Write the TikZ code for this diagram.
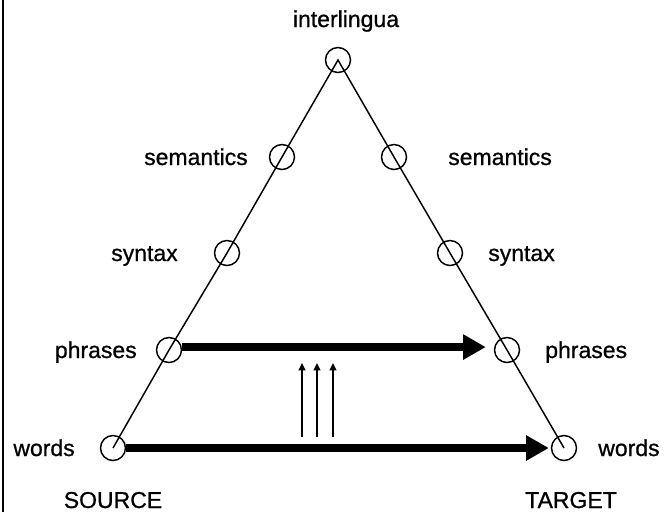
\documentclass[tikz,border=0pt]{standalone}
\usepackage{fontspec}
\setmainfont{Liberation Sans}
\newfontfamily\lblfont[FakeBold=0.8]{Liberation Sans}
\usetikzlibrary{arrows.meta}
\begin{document}
\begin{tikzpicture}[x=0.75pt,y=-0.75pt,
  lvl/.style={circle,draw,line width=1.1pt,minimum size=18.75pt,inner sep=0pt},
  lbl/.style={font=\lblfont\fontsize{17.25}{20}\selectfont,inner sep=0pt},
  edgeline/.style={line width=1.1pt},
  bigarrow/.style={line width=6pt,-{Triangle[length=17pt,width=18pt]}},
  thinarrow/.style={line width=1.3pt,-{Triangle[length=5.5pt,width=5pt]}}]
\useasboundingbox (0,0) rectangle (667,512);
\draw[line width=1.5pt] (3,0) -- (3,512);
% level circles
\node[lvl] (A)    at (338,60) {};
\node[lvl] (semL) at (282,157) {};
\node[lvl] (semR) at (394,157) {};
\node[lvl] (synL) at (227,253) {};
\node[lvl] (synR) at (450,253) {};
\node[lvl] (phL)  at (169,350) {};
\node[lvl] (phR)  at (507,350) {};
\node[lvl] (wL)   at (113,448) {};
\node[lvl] (wR)   at (564,448) {};
% triangle sides
\draw[edgeline] (wL.center) -- (phL.center) -- (synL.center) -- (semL.center) -- (A.center)
  -- (semR.center) -- (synR.center) -- (phR.center) -- (wR.center);
% labels
\node[lbl,anchor=base] (tI) at (346,27) {interlingua};
\node[lbl,anchor=base east] (tsemL) at (248,165) {semantics};
\node[lbl,anchor=base east] (tsynL) at (178,261) {syntax};
\node[lbl,anchor=base east] (tphL) at (137,358) {phrases};
\node[lbl,anchor=base east] (twL) at (75,456) {words};
\node[lbl,anchor=base west] (tsemR) at (448,165) {semantics};
\node[lbl,anchor=base west] (tsynR) at (488,261) {syntax};
\node[lbl,anchor=base west] (tphR) at (545,358) {phrases};
\node[lbl,anchor=base west] (twR) at (598,456) {words};
\node[lbl,anchor=base] (tS) at (113,508) {SOURCE};
\node[lbl,anchor=base] (tT) at (571,508) {TARGET};
% transfer arrows
\draw[bigarrow,shorten >=6pt] ([yshift=2.2pt]phL.east) -- ([yshift=2.2pt]phR.west);
\draw[bigarrow,shorten >=1.5pt] (wL.east) -- (wR.west);
% small upward arrows
\coordinate (u1a) at (302,437); \coordinate (u1b) at (302,363);
\coordinate (u2a) at (317,437); \coordinate (u2b) at (317,363);
\coordinate (u3a) at (333,437); \coordinate (u3b) at (333,363);
\draw[thinarrow] (u1a) -- (u1b);
\draw[thinarrow] (u2a) -- (u2b);
\draw[thinarrow] (u3a) -- (u3b);
\end{tikzpicture}
\end{document}
